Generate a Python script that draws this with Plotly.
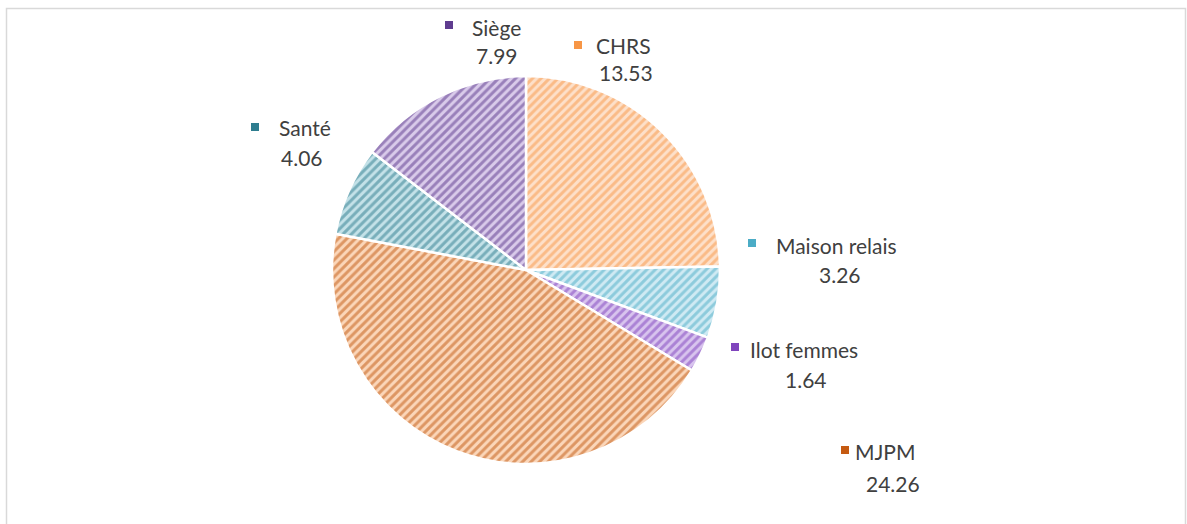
import plotly.graph_objects as go

# Category shares, clockwise from 12 o'clock
labels = ["CHRS", "Maison relais", "Ilot femmes", "MJPM", "Santé", "Siège"]
values = [13.53, 3.26, 1.64, 24.26, 4.06, 7.99]
value_text = ["13.53", "3.26", "1.64", "24.26", "4.06", "7.99"]

# Hatch line colour and background tint for each slice
line_colors = ["#f79646", "#4bacc6", "#7d3fbb", "#c0560e", "#2b7a8c", "#5a3689"]
fill_colors = ["#fde0c9", "#cfeaf3", "#d8c4ee", "#fbd6b9", "#c4e2e8", "#d9cbea"]
key_colors = ["#f79646", "#4bacc6", "#8045bd", "#c55a11", "#2e7d8f", "#5f3c8f"]

W, H = 1187, 524
cx, cy, r = 526, 270, 194

fig = go.Figure(go.Pie(
    labels=labels,
    values=values,
    sort=False,
    direction="clockwise",
    rotation=0,
    textinfo="none",
    hoverinfo="label+value",
    marker=dict(
        colors=fill_colors,
        line=dict(color="white", width=2.5),
        pattern=dict(shape="/", fgcolor=line_colors, bgcolor=fill_colors,
                     size=6, solidity=0.5, fillmode="overlay"),
    ),
    domain=dict(x=[(cx - r) / W, (cx + r) / W],
                y=[1 - (cy + r) / H, 1 - (cy - r) / H]),
    showlegend=False,
))

# Data label placement (pixel centres): key square, label line, value line
label_pos = {
    "Siège":         dict(key=(449, 25), name=(497, 27), val=(497, 56)),
    "CHRS":          dict(key=(578, 45), name=(623, 46), val=(626, 73)),
    "Santé":         dict(key=(255, 127), name=(305, 128), val=(302, 157)),
    "Maison relais": dict(key=(752, 243), name=(836, 246), val=(840, 274)),
    "Ilot femmes":   dict(key=(735, 347), name=(804, 349), val=(806, 379)),
    "MJPM":          dict(key=(845, 450), name=(885, 451), val=(893, 483)),
}

shapes = []
annotations = []
font = dict(family="Lato, 'Open Sans', sans-serif", size=21, color="#404040")
for lab, val, col in zip(labels, value_text, key_colors):
    p = label_pos[lab]
    kx, ky = p["key"]
    shapes.append(dict(type="rect", xref="paper", yref="paper",
                       x0=(kx - 4) / W, x1=(kx + 4) / W,
                       y0=1 - (ky + 4) / H, y1=1 - (ky - 4) / H,
                       fillcolor=col, line=dict(width=0)))
    for txt, (tx, ty) in ((lab, p["name"]), (val, p["val"])):
        annotations.append(dict(text=txt, x=tx / W, y=1 - ty / H,
                                xref="paper", yref="paper",
                                xanchor="center", yanchor="middle",
                                showarrow=False, font=font))

# Chart area frame
shapes.append(dict(type="rect", xref="paper", yref="paper",
                   x0=6.5 / W, x1=1185.5 / W, y0=-0.05, y1=1 - 8.5 / H,
                   line=dict(color="#d9d9d9", width=1.5), fillcolor="rgba(0,0,0,0)"))

fig.update_layout(
    width=W, height=H,
    margin=dict(l=0, r=0, t=0, b=0),
    paper_bgcolor="white",
    plot_bgcolor="white",
    shapes=shapes,
    annotations=annotations,
)

fig.write_html("out.html")
